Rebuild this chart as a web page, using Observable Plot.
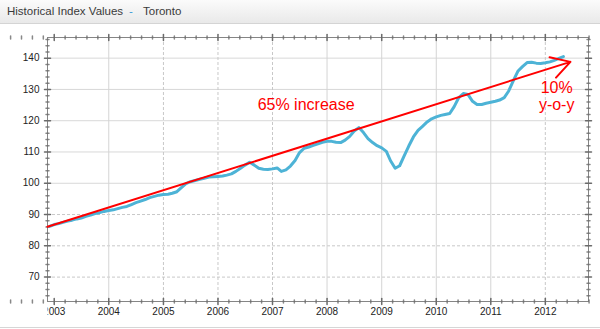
<!DOCTYPE html>
<html><head><meta charset="utf-8">
<script src="https://cdn.jsdelivr.net/npm/d3@7"></script>
<script src="https://cdn.jsdelivr.net/npm/@observablehq/plot@0.6"></script>
<style>
html,body{margin:0;padding:0;background:#fff;width:600px;height:329px;overflow:hidden;font-family:"Liberation Sans",Arial,sans-serif;}
#header{position:relative;height:23px;border-bottom:1px solid #d4d4d4;background:linear-gradient(#fbfbfb,#e9e9e9);font-size:11.5px;color:#3a3a3a;}
#header span{position:absolute;top:5px;white-space:nowrap;}
#chart{height:303px;}
#footer{border-top:1px solid #d6d6d6;height:1px;}
</style></head>
<body>
<div id="header"><span style="left:7px">Historical Index Values</span><span style="left:129px;color:#3d9bd8">-</span><span style="left:143px">Toronto</span></div>
<div id="chart"></div>
<div id="footer"></div>
<script>
// Monthly index values (Toronto)
const months = [
"2002-12",
"2003-01","2003-02","2003-03","2003-04","2003-05","2003-06","2003-07","2003-08","2003-09","2003-10","2003-11","2003-12",
"2004-01","2004-02","2004-03","2004-04","2004-05","2004-06","2004-07","2004-08","2004-09","2004-10","2004-11","2004-12",
"2005-01","2005-02","2005-03","2005-04","2005-05","2005-06","2005-07","2005-08","2005-09","2005-10","2005-11","2005-12",
"2006-01","2006-02","2006-03","2006-04","2006-05","2006-06","2006-07","2006-08","2006-09","2006-10","2006-11","2006-12",
"2007-01","2007-02","2007-03","2007-04","2007-05","2007-06","2007-07","2007-08","2007-09","2007-10","2007-11","2007-12",
"2008-01","2008-02","2008-03","2008-04","2008-05","2008-06","2008-07","2008-08","2008-09","2008-10","2008-11","2008-12",
"2009-01","2009-02","2009-03","2009-04","2009-05","2009-06","2009-07","2009-08","2009-09","2009-10","2009-11","2009-12",
"2010-01","2010-02","2010-03","2010-04","2010-05","2010-06","2010-07","2010-08","2010-09","2010-10","2010-11","2010-12",
"2011-01","2011-02","2011-03","2011-04","2011-05","2011-06","2011-07","2011-08","2011-09","2011-10","2011-11","2011-12",
"2012-01","2012-02","2012-03","2012-04","2012-05"
];
const values = [
86.2,
86.8,87.1,87.5,87.9,88.2,88.6,88.9,89.4,89.8,90.3,90.6,91.0,
91.3,91.5,91.9,92.3,92.6,93.2,93.8,94.3,94.8,95.4,95.8,96.2,
96.4,96.5,96.8,97.3,98.6,99.9,100.5,100.9,101.3,101.6,102.0,102.1,
102.2,102.3,102.6,103.0,103.8,104.8,105.8,106.7,105.8,104.8,104.5,104.4,
104.6,104.9,103.8,104.3,105.5,107.3,109.8,111.2,111.6,112.1,112.6,113.1,
113.4,113.4,113.1,113.0,113.8,115.0,116.7,117.8,116.2,114.3,113.0,112.0,
111.3,110.2,107.2,104.8,105.6,108.8,111.9,114.8,116.9,118.2,119.6,120.6,
121.2,121.7,122.0,122.3,124.5,127.4,128.7,128.4,126.2,125.2,125.2,125.6,
125.9,126.2,126.6,127.4,129.5,132.8,135.8,137.3,138.6,138.7,138.4,138.3,
138.5,138.8,139.3,139.9,140.5
];
// tick labels
const yearTicks = [2003,2004,2005,2006,2007,2008,2009,2010,2011,2012];
const yTicks = [70,80,90,100,110,120,130,140];
// trend arrow [date, value]
const arrowStart = ["2002-11-17", 86.1];
const arrowEnd = ["2012-06-17", 138.8];
// annotations
const noteLabels = ["65% increase", "10%\ny-o-y"];
const noteDates = ["2007-08-14", "2012-03-17"];
const noteValues = [125.2, 128.0];

const parse = d3.utcParse("%Y-%m-%d");
const data = months.map((m, i) => ({date: parse(m + "-01"), value: values[i]}));
const yearDate = y => new Date(Date.UTC(y, 0, 1));
const xMajor = yearTicks.map(yearDate);
const xMinor = [];
for (let y = 2002; y <= 2012; y++) for (let k = 1; k < 5; k++) {
  const t = new Date(Date.UTC(y, 0, 1) + k / 5 * (Date.UTC(y + 1, 0, 1) - Date.UTC(y, 0, 1)));
  xMinor.push(t);
}
const yMinor = d3.range(64, 147, 2).filter(v => v % 10 !== 0);
const xDomain = [parse("2002-11-17"), parse("2012-10-16")];
const solidYears = [2004, 2008, 2009, 2010, 2011];
const gridYears = yearTicks.filter(y => y > 2003);
const notes = noteLabels.map((t, i) => ({text: t, date: parse(noteDates[i]), value: noteValues[i]}));
const line = {draw(context, l) { context.moveTo(0, 0); context.lineTo(0, -l); }};
const tickColor = "#6a6a6a";

const plot = Plot.plot({
  width: 600, height: 303,
  marginLeft: 47, marginRight: 12, marginTop: 13, marginBottom: 26,
  style: {fontFamily: "'Liberation Sans', Arial, sans-serif", fontSize: "10px", color: "#222", background: "white"},
  x: {type: "utc", domain: xDomain},
  y: {domain: [62.2, 146.6]},
  marks: [
    Plot.ruleY(yTicks.filter(v => v >= 100), {stroke: "#d8d8d8"}),
    Plot.ruleY(yTicks.filter(v => v < 100), {stroke: "#c8c8c8", strokeDasharray: "3,2"}),
    Plot.ruleX(gridYears.filter(y => solidYears.includes(y)).map(yearDate), {stroke: "#d4d4d4"}),
    Plot.ruleX(gridYears.filter(y => !solidYears.includes(y)).map(yearDate), {stroke: "#c8c8c8", strokeDasharray: "3,2"}),
    Plot.frame({stroke: "#858585"}),
    // ticks
    Plot.vector(yTicks, {y: d => d, frameAnchor: "left", length: 6, rotate: 90, anchor: "middle", shape: line, stroke: tickColor}),
    Plot.vector(yTicks, {y: d => d, frameAnchor: "right", length: 6, rotate: 90, anchor: "middle", shape: line, stroke: tickColor}),
    Plot.vector(yMinor, {y: d => d, frameAnchor: "left", length: 3, rotate: 90, anchor: "middle", shape: line, stroke: tickColor, strokeOpacity: 0.8}),
    Plot.vector(yMinor, {y: d => d, frameAnchor: "right", length: 3, rotate: 90, anchor: "middle", shape: line, stroke: tickColor, strokeOpacity: 0.8}),
    Plot.vector(xMajor, {x: d => d, frameAnchor: "bottom", length: 6, anchor: "middle", shape: line, stroke: tickColor}),
    Plot.vector(xMajor, {x: d => d, frameAnchor: "top", length: 6, anchor: "middle", shape: line, stroke: tickColor}),
    Plot.vector(xMinor, {x: d => d, frameAnchor: "bottom", length: 3, anchor: "middle", shape: line, stroke: tickColor, strokeOpacity: 0.8}),
    Plot.vector(xMinor, {x: d => d, frameAnchor: "top", length: 3, anchor: "middle", shape: line, stroke: tickColor, strokeOpacity: 0.8}),
    Plot.axisY({ticks: yTicks, tickSize: 0, tickPadding: 8, label: null}),
    Plot.axisX({ticks: xMajor, tickFormat: d3.utcFormat("%Y"), tickSize: 0, tickPadding: 6, label: null}),
    Plot.line(data, {x: "date", y: "value", stroke: "#4db3d6", strokeWidth: 3}),
    Plot.arrow([{}], {x1: () => parse(arrowStart[0]), y1: () => arrowStart[1], x2: () => parse(arrowEnd[0]), y2: () => arrowEnd[1], stroke: "#ff0000", strokeWidth: 2, headLength: 16, headAngle: 60}),
    Plot.text(notes, {x: "date", y: "value", text: "text", fill: "#ff0000", fontSize: 16, lineHeight: 1.1})
  ]
});
document.getElementById("chart").appendChild(plot);

// clip x tick labels to the plot's left edge (the 2003 label is cut off in the original)
const svg = d3.select(plot);
const id = "xlabclip";
svg.append("defs").append("clipPath").attr("id", id).append("rect").attr("x", 47).attr("y", 0).attr("width", 560).attr("height", 303);
svg.selectAll('g[aria-label="x-axis tick label"]').attr("clip-path", `url(#${id})`);
</script>
</body></html>
